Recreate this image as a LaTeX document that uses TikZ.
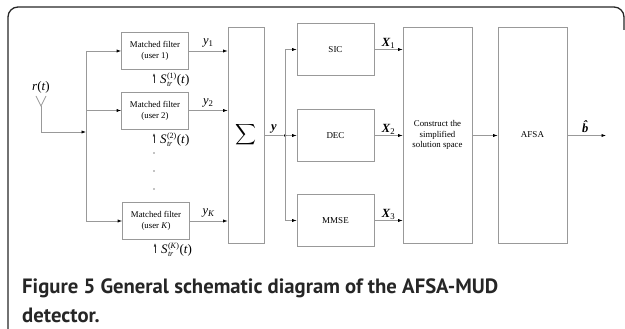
\documentclass[tikz,border=0pt]{standalone}
\usepackage{fontspec}
\usepackage{graphicx}
\setmainfont{Liberation Serif}
\newfontfamily\capfont{PT Sans}
\usetikzlibrary{arrows.meta}

% spreading-code label S_tr^{(k)}(t), set by hand in text italics
\newcommand\Strlab[1]{\textit{S}\hspace{0.3pt}\rlap{\raisebox{-0.55ex}{\fontsize{8}{8}\selectfont\textit{tr}}}\raisebox{0.75ex}{\fontsize{8}{8}\selectfont(#1)}\hspace{0.5pt}(\textit{t})}

\begin{document}
\begin{tikzpicture}[x=1pt,y=-1pt,
  wire/.style={draw=black!40, line width=0.7pt},
  arr/.style={wire, -{Latex[length=4.5pt,width=3.2pt,black]}},
  blk/.style={draw=black!40, line width=0.7pt, inner sep=1pt, align=center,
              font=\fontsize{8.8}{10.8}\selectfont},
  mf/.style={blk, minimum width=67pt, minimum height=37pt},
  tall/.style={blk, minimum height=216pt},
  det/.style={blk, minimum width=77pt, minimum height=52pt, font=\fontsize{9}{11}\selectfont},
  lab/.style={font=\fontsize{12.5}{14}\selectfont, inner sep=0pt},
  slab/.style={font=\fontsize{13}{15}\selectfont, inner sep=0pt, anchor=west},
  dot/.style={circle, fill=black, inner sep=0pt, minimum size=1.3pt},
  captext/.style={font=\capfont\bfseries\fontsize{20.7}{23}\selectfont, text=black!85, inner sep=0pt, anchor=base west}
]
\useasboundingbox (0,0) rectangle (625,329);

% page frame
\draw[black!85, line width=1.3pt, rounded corners=10pt] (8,335) -- (8,7) -- (624,7) -- (624,30);

% antenna
\coordinate (antTop) at (41,106);
\coordinate (antBase) at (41,132);
\coordinate (busIn) at (86,132);
\draw[wire] (36,96) -- (antTop) -- (46,96);
\node[lab, font=\fontsize{13}{15}\selectfont] (rt) at (41,87) {\textit{r}(\textit{t})};
\draw[wire] (antTop) -- (antBase);
\draw[arr] (antBase) -- (busIn);

% matched filters
\node[mf] (mf1) at (155,51)  {Matched filter\\(user 1)};
\node[mf] (mf2) at (155,110.5) {Matched filter\\(user 2)};
\node[mf] (mfK) at (156,221) {Matched filter\\(user \textit{K})};

% input bus
\coordinate (bus1) at (86,51);
\coordinate (bus2) at (86,110.5);
\coordinate (busK) at (86,221);
\draw[wire] (bus1) -- (busK);
\draw[arr] (bus1) -- (mf1.west);
\draw[arr] (bus2) -- (mf2.west);
\draw[arr] (busK) -- (mfK.west);

% spreading-code inputs
\coordinate (s1) at (154,83);
\coordinate (s2) at (154,143);
\coordinate (sK) at (155,253);
\draw[-{Latex[length=3.5pt,width=2.6pt]}, black!80, line width=0.6pt] (s1) -- ++(0,-10);
\draw[-{Latex[length=3.5pt,width=2.6pt]}, black!80, line width=0.6pt] (s2) -- ++(0,-10);
\draw[-{Latex[length=3.5pt,width=2.6pt]}, black!80, line width=0.6pt] (sK) -- ++(0,-10);
\node[slab] (lS1) at (160,80) {\Strlab{1}};
\node[slab] (lS2) at (160,140) {\Strlab{2}};
\node[slab] (lSK) at (161,250) {\Strlab{\textit{K}}};

% dots between users
\node[dot] (d1) at (154,153) {};
\node[dot] (d2) at (154,171) {};
\node[dot] (d3) at (154,189) {};

% summation
\node[tall, minimum width=36pt] (sum) at (246,135) {\scalebox{1.45}{$\displaystyle\sum$}};
\draw[arr] (mf1.east) -- (mf1.east -| sum.west) node[lab, midway, above=3pt] (ly1) {\textit{y}\textsubscript{1}};
\draw[arr] (mf2.east) -- (mf2.east -| sum.west) node[lab, midway, above=3pt] (ly2) {\textit{y}\textsubscript{2}};
\draw[arr] (mfK.east) -- (mfK.east -| sum.west) node[lab, midway, above=3pt] (lyK) {\textit{y}\textsubscript{\textit{K}}};

% detectors
\node[det] (sic)  at (335.5,49.5)  {SIC};
\node[det] (dec)  at (335.5,135.5) {DEC};
\node[det] (mmse) at (335.5,220.5) {MMSE};

\node[dot, minimum size=3pt] (jn) at (285,135.5) {};
\coordinate (jTop) at (285,49.5);
\coordinate (jBot) at (285,220.5);
\draw[wire] (sum.east |- jn) -- (jn) node[lab, midway, above=2pt] (ly) {\textbf{\textit{y}}};
\draw[wire] (jTop) -- (jBot);
\draw[arr] (jn) -- (dec.west);
\draw[arr] (jTop) -- (sic.west);
\draw[arr] (jBot) -- (mmse.west);

% solution space and AFSA
\node[tall, minimum width=69pt] (cons) at (437.5,135) {Construct the\\simplified\\solution space};
\node[tall, minimum width=69pt, font=\fontsize{9}{11}\selectfont] (afsa) at (532.5,135) {AFSA};

\draw[arr] (sic.east) -- (sic.east -| cons.west) node[lab, midway, above=1pt] (lx1) {\textbf{\textit{X}}\textsubscript{1}};
\draw[arr] (dec.east) -- (dec.east -| cons.west) node[lab, midway, above=1pt] (lx2) {\textbf{\textit{X}}\textsubscript{2}};
\draw[arr] (mmse.east) -- (mmse.east -| cons.west) node[lab, midway, above=1pt] (lx3) {\textbf{\textit{X}}\textsubscript{3}};

\draw[arr] (cons.east |- jn) -- (afsa.west |- jn);
\coordinate (out) at (606,135.5);
\draw[arr] (afsa.east |- jn) -- (out) node[lab, midway, above=3pt] (lb) {\textbf{\textit{\^{b}}}};

% caption
\node[captext] (cap1) at (22,293) {Figure 5 General schematic diagram of the AFSA-MUD};
\node[captext] (cap2) at (22,322) {detector.};
\end{tikzpicture}
\end{document}
